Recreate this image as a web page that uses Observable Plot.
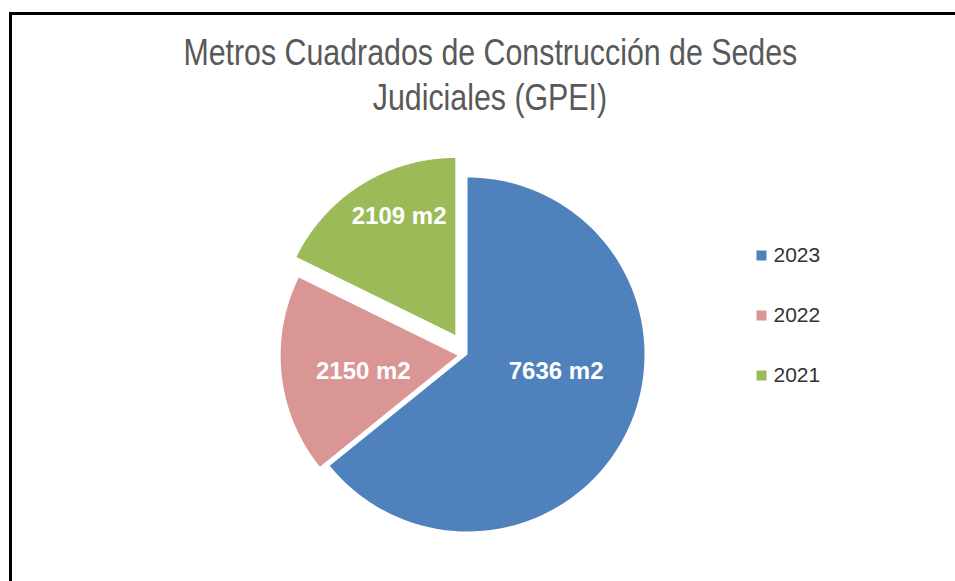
<!DOCTYPE html>
<html>
<head>
<meta charset="utf-8">
<script src="https://cdn.jsdelivr.net/npm/d3@7"></script>
<script src="https://cdn.jsdelivr.net/npm/@observablehq/plot@0.6"></script>
<style>
  html, body { margin: 0; padding: 0; background: #fff; overflow: hidden; }
  body { width: 955px; height: 581px; position: relative; font-family: "Liberation Sans", Arial, sans-serif; }
  #hline { position: absolute; left: 9px; top: 12px; width: 946px; height: 3px; background: #000; }
  #vline { position: absolute; left: 9px; top: 12px; width: 3px; height: 569px; background: #000; }
  #title { position: absolute; left: 100px; top: 30px; width: 780px; text-align: center; color: #595959; font-size: 37px; line-height: 45px; }
  #title span { display: inline-block; transform: scaleX(0.82); transform-origin: center; white-space: nowrap; }
  #pie { position: absolute; left: 257px; top: 144px; width: 420px; height: 420px; }
  #legend { position: absolute; left: 750px; top: 225px; width: 120px; height: 180px; }
</style>
</head>
<body>
<div id="hline"></div>
<div id="vline"></div>
<div id="title"><span>Metros Cuadrados de Construcción de Sedes</span><br><span>Judiciales (GPEI)</span></div>
<div id="pie"></div>
<div id="legend"></div>
<script>
// ---- data ----
const years = ["2023", "2022", "2021"];
const values = [7636, 2150, 2109];
const valueLabels = ["7636 m2", "2150 m2", "2109 m2"];
// ---- style ----
const colors = ["#4F81BD", "#D99694", "#9BBB59"];
const explode = [0, 0.056, 0.13];      // fraction of radius
const labelR = [0.51, 0.54, 0.74];      // label distance, fraction of radius
const labelTurn = [-14.6, -3, 6.5];     // label angle tweak (degrees)

const arcs = d3.pie().sort(null).value((d, i) => values[i])(years);

const polyPts = [];
const labelPts = [];
arcs.forEach((a, i) => {
  const mid = (a.startAngle + a.endAngle) / 2;
  const ox = explode[i] * Math.sin(mid);
  const oy = explode[i] * Math.cos(mid);
  polyPts.push({year: years[i], x: ox, y: oy});
  const N = 160;
  for (let k = 0; k <= N; k++) {
    const t = a.startAngle + (a.endAngle - a.startAngle) * k / N;
    polyPts.push({year: years[i], x: ox + Math.sin(t), y: oy + Math.cos(t)});
  }
  polyPts.push({year: years[i], x: ox, y: oy});
  const la = mid + labelTurn[i] * Math.PI / 180;
  labelPts.push({year: years[i], label: valueLabels[i], x: ox + labelR[i] * Math.sin(la), y: oy + labelR[i] * Math.cos(la)});
});

const color = {domain: years, range: colors};
const ext = 210 / 177;

const pie = Plot.plot({
  width: 420, height: 420,
  margin: 0,
  x: {domain: [-ext, ext], axis: null},
  y: {domain: [-ext, ext], axis: null},
  color,
  style: {background: "transparent", overflow: "visible"},
  marks: [
    Plot.line(polyPts, {x: "x", y: "y", z: "year", fill: "year", stroke: "none", curve: "linear"}),
    Plot.text(labelPts, {x: "x", y: "y", text: "label", fill: "white", fontSize: 24, fontWeight: "bold", fontFamily: "Liberation Sans, Arial, sans-serif"})
  ]
});
document.getElementById("pie").appendChild(pie);

const legend = Plot.plot({
  width: 120, height: 180,
  marginTop: 30, marginBottom: 30, marginLeft: 0, marginRight: 0,
  x: {axis: null},
  y: {type: "point", domain: years, axis: null, padding: 0},
  color,
  style: {background: "transparent", overflow: "visible"},
  marks: [
    Plot.dot(years, {y: d => d, frameAnchor: "left", dx: 11, symbol: "square", r: 5.64, fill: d => d, stroke: "none"}),
    Plot.text(years, {y: d => d, text: d => d, frameAnchor: "left", dx: 23, textAnchor: "start", fill: "#333", fontSize: 21, fontFamily: "Liberation Sans, Arial, sans-serif"})
  ]
});
document.getElementById("legend").appendChild(legend);
</script>
</body>
</html>
